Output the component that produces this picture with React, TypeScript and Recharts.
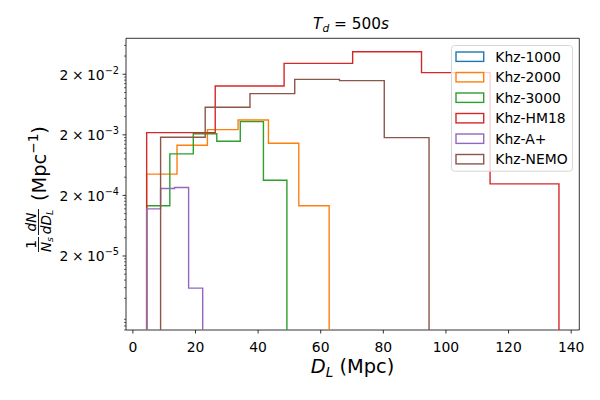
import { Legend, Line, LineChart, ReferenceArea, XAxis, YAxis } from "recharts";

const FONT = "DejaVu Sans";

// axis limits (matplotlib adds a 5% margin on x)
const X_MIN = -2.2;
const X_MAX = 142.6;
const Y_MIN = 1.2e-6;
const Y_MAX = 7.85e-2;

const X_TICKS = [0, 20, 40, 60, 80, 100, 120, 140];
const Y_LABEL_TICKS = [2e-5, 2e-4, 2e-3, 2e-2];
const Y_LABEL_EXPONENTS = ["−5", "−4", "−3", "−2"];
const Y_MINOR_BASES = [2e-7, 2e-6, 2e-5, 2e-4, 2e-3, 2e-2];
const Y_MINOR_STEPS = [2, 3, 4, 5, 6, 7, 8, 9];

const NAMES = ["Khz-1000", "Khz-2000", "Khz-3000", "Khz-HM18", "Khz-A+", "Khz-NEMO"];
const COLORS = ["#1f77b4", "#ff7f0e", "#2ca02c", "#d62728", "#9467bd", "#8c564b"];

// bin edges (Mpc) and heights
const KHZ1000_EDGES: number[] = [];
const KHZ1000_VALUES: number[] = [];

const KHZ2000_EDGES = [4.4, 14.1, 23.8, 33.6, 43.3, 53.0, 62.7];
const KHZ2000_VALUES = [4.5e-4, 1.35e-3, 2.44e-3, 3.52e-3, 1.45e-3, 1.35e-4];

const KHZ3000_EDGES = [4.4, 11.8, 19.3, 26.8, 34.3, 41.7, 49.2];
const KHZ3000_VALUES = [1.35e-4, 9.7e-4, 2.09e-3, 1.57e-3, 3.3e-3, 3.56e-4];

const HM18_EDGES = [4.4, 26.3, 48.3, 70.2, 92.2, 114.1, 136.1];
const HM18_VALUES = [2.18e-3, 1.28e-2, 3.03e-2, 4.72e-2, 2.13e-2, 3.1e-4];

const APLUS_EDGES = [4.4, 8.85, 13.3, 17.8, 22.3];
const APLUS_VALUES = [1.2e-4, 2.6e-4, 2.7e-4, 5.9e-6];

const NEMO_EDGES = [8.85, 23.1, 37.4, 51.7, 66.0, 80.3, 94.6];
const NEMO_VALUES = [1.82e-3, 5.7e-3, 9.6e-3, 1.65e-2, 1.57e-2, 1.8e-3];

const EDGES = [KHZ1000_EDGES, KHZ2000_EDGES, KHZ3000_EDGES, HM18_EDGES, APLUS_EDGES, NEMO_EDGES];
const VALUES = [KHZ1000_VALUES, KHZ2000_VALUES, KHZ3000_VALUES, HM18_VALUES, APLUS_VALUES, NEMO_VALUES];

// outline of a step histogram, dropping to the bottom of the axes at both ends
function stepOutline(edges: number[], values: number[]) {
  if (!values.length) return [];
  const pts = [{ x: edges[0], y: Y_MIN }];
  values.forEach((v, i) => {
    pts.push({ x: edges[i], y: v });
    pts.push({ x: edges[i + 1], y: v });
  });
  pts.push({ x: edges[values.length], y: Y_MIN });
  return pts;
}

const Y_TICKS = [
  ...Y_LABEL_TICKS,
  ...Y_MINOR_BASES.flatMap((b) => Y_MINOR_STEPS.map((m) => b * m)),
].filter((t) => t >= Y_MIN && t <= Y_MAX);

function YTick(props: any) {
  const { x, y, payload } = props;
  const i = Y_LABEL_TICKS.findIndex((t) => Math.abs(t - payload.value) / t < 1e-6);
  if (i < 0) {
    return <line x1={x - 2} x2={x} y1={y} y2={y} stroke="#000" strokeWidth={0.6} />;
  }
  return (
    <g>
      <line x1={x - 3.5} x2={x} y1={y} y2={y} stroke="#000" strokeWidth={0.8} />
      <text x={x - 7} y={y + 5.5} textAnchor="end" fontSize={13.9} fontFamily={FONT} fill="#000">
        2{"\u2005×\u2005"}10
        <tspan dy={-6} fontSize={9.7}>
          {Y_LABEL_EXPONENTS[i]}
        </tspan>
      </text>
    </g>
  );
}

function XTick(props: any) {
  const { x, y, payload } = props;
  return (
    <g>
      <line x1={x} x2={x} y1={y} y2={y + 3.5} stroke="#000" strokeWidth={0.8} />
      <text x={x} y={y + 21.7} textAnchor="middle" fontSize={13.9} fontFamily={FONT} fill="#000">
        {payload.value}
      </text>
    </g>
  );
}

function HistLegend() {
  return (
    <svg width={122} height={127} style={{ display: "block" }}>
      <rect x={0.5} y={0.5} width={121} height={125.7} rx={3} fill="rgba(255,255,255,0.8)" stroke="#d6d6d6" />
      {NAMES.map((name, i) => {
        const cy = 11.7 + i * 20.5;
        return (
          <g key={name}>
            <rect x={5} y={cy - 4.7} width={27.7} height={9.4} fill="none" stroke={COLORS[i]} strokeWidth={1.4} />
            <text x={44.3} y={cy + 5} fontSize={13.9} fontFamily={FONT} fill="#000">
              {name}
            </text>
          </g>
        );
      })}
    </svg>
  );
}

function Labels() {
  return (
    <svg
      width={600}
      height={400}
      style={{ position: "absolute", left: 0, top: 0, pointerEvents: "none" }}
    >
      <text x={351} y={29} textAnchor="middle" fontSize={15.3} fontFamily={FONT} fill="#000">
        <tspan fontStyle="italic">T</tspan>
        <tspan fontStyle="italic" fontSize={10.7} dy={3}>
          d
        </tspan>
        <tspan dy={-3}> = 500</tspan>
        <tspan fontStyle="italic">s</tspan>
      </text>
      <text x={352.6} y={373} textAnchor="middle" fontSize={19.4} fontFamily={FONT} fill="#000">
        <tspan fontStyle="italic">D</tspan>
        <tspan fontStyle="italic" fontSize={13.6} dy={3.5}>
          L
        </tspan>
        <tspan dy={-3.5}> (Mpc)</tspan>
      </text>
      <g transform="translate(46, 188) rotate(-90)" fontFamily={FONT} fill="#000">
        <text x={-56.5} y={-10.5} textAnchor="middle" fontSize={13.6}>
          1
        </text>
        <line x1={-64} x2={-49} y1={-7.5} y2={-7.5} stroke="#000" strokeWidth={0.9} />
        <text x={-56.5} y={4.5} textAnchor="middle" fontSize={13.6}>
          <tspan fontStyle="italic">N</tspan>
          <tspan fontStyle="italic" fontSize={9.5} dy={2.5}>
            s
          </tspan>
        </text>
        <text x={-34} y={-10.5} textAnchor="middle" fontSize={13.6} fontStyle="italic">
          dN
        </text>
        <line x1={-47} x2={-21} y1={-7.5} y2={-7.5} stroke="#000" strokeWidth={0.9} />
        <text x={-34} y={4.5} textAnchor="middle" fontSize={13.6}>
          <tspan fontStyle="italic">dD</tspan>
          <tspan fontStyle="italic" fontSize={9.5} dy={2.5}>
            L
          </tspan>
        </text>
        <text x={-13} y={0} fontSize={19.4}>
          (Mpc
          <tspan fontSize={13.6} dy={-8}>
            −1
          </tspan>
          <tspan dy={8}>)</tspan>
        </text>
      </g>
    </svg>
  );
}

export default function App() {
  return (
    <div style={{ position: "absolute", left: 0, top: 0, width: 600, height: 400, background: "#fff" }}>
      <LineChart width={600} height={400} margin={{ top: 38.3, right: 20.7, bottom: 0, left: 0 }}>
        <XAxis
          type="number"
          dataKey="x"
          domain={[X_MIN, X_MAX]}
          allowDataOverflow
          ticks={X_TICKS}
          interval={0}
          tick={<XTick />}
          tickSize={0}
          tickMargin={0}
          tickLine={false}
          axisLine={false}
          height={70}
        />
        <YAxis
          type="number"
          dataKey="y"
          scale="log"
          domain={[Y_MIN, Y_MAX]}
          allowDataOverflow
          ticks={Y_TICKS}
          interval={0}
          tick={<YTick />}
          tickSize={0}
          tickMargin={0}
          tickLine={false}
          axisLine={false}
          width={126}
        />
        {NAMES.map((name, i) => (
          <Line
            key={name}
            name={name}
            data={stepOutline(EDGES[i], VALUES[i])}
            dataKey="y"
            type="linear"
            stroke={COLORS[i]}
            strokeWidth={1.4}
            dot={false}
            activeDot={false}
            isAnimationActive={false}
          />
        ))}
        <ReferenceArea
          x1={X_MIN}
          x2={X_MAX}
          y1={Y_MIN}
          y2={Y_MAX}
          fill="none"
          stroke="#000"
          strokeWidth={0.8}
          ifOverflow="visible"
        />
        <Legend
          layout="horizontal"
          verticalAlign="middle"
          align="center"
          content={() => <HistLegend />}
          wrapperStyle={{ left: 450.7, top: 45, width: 122, height: 127 }}
        />
      </LineChart>
      <Labels />
    </div>
  );
}
